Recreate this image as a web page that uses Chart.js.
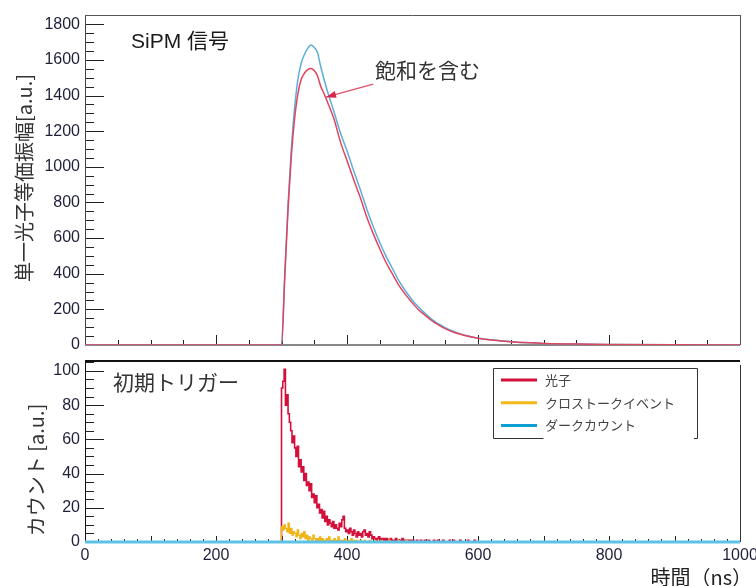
<!DOCTYPE html>
<html>
<head>
<meta charset="utf-8">
<script src="https://cdn.jsdelivr.net/npm/chart.js@4.4.1/dist/chart.umd.min.js"></script>
<style>
  body { margin: 0; background: #fff; }
  #wrap { position: relative; width: 756px; height: 586px; }
  canvas { position: absolute; left: 0; }
  #top { top: 0; }
  #bottom { top: 352px; }
</style>
</head>
<body>
<div id="wrap">
  <canvas id="top" width="756" height="352"></canvas>
  <canvas id="bottom" width="756" height="234"></canvas>
</div>
<script>
// Top panel: SiPM signal (time in ns, amplitude in a.u.)
const sigTimes     = [0, 290, 300, 305, 310, 315, 320, 325, 330, 335, 340, 345, 350, 355, 360, 365, 370, 380, 390, 400, 410, 420, 430, 440, 450, 460, 470, 480, 490, 500, 510, 520, 530, 540, 550, 560, 570, 580, 590, 600, 620, 640, 660, 680, 700, 750, 800, 900, 1000];
const sigSaturated = [0, 0, 0, 380, 760, 1060, 1270, 1410, 1490, 1525, 1545, 1552, 1540, 1510, 1450, 1410, 1365, 1270, 1140, 1035, 930, 830, 720, 625, 540, 460, 395, 330, 280, 235, 195, 165, 135, 112, 92, 76, 63, 53, 45, 38, 28, 21, 16, 12, 9, 5, 3, 1, 0];
const sigLinear    = [0, 0, 0, 400, 790, 1100, 1330, 1490, 1580, 1630, 1665, 1683, 1670, 1640, 1560, 1490, 1425, 1310, 1190, 1090, 980, 875, 765, 665, 575, 495, 425, 355, 300, 250, 210, 175, 142, 118, 97, 80, 66, 55, 46, 39, 29, 22, 16, 12, 9, 5, 3, 1, 0];

// Bottom panel: first-trigger histograms, 2 ns bins starting at 300 ns
const histStart = 300;
const binWidth = 2;
const photonCounts = [
  90, 94, 101, 80, 86, 75, 70, 65, 58, 62,
  55, 50, 56, 44, 48, 41, 44, 36, 40, 33,
  35, 30, 34, 26, 28, 23, 27, 20, 22, 17,
  19, 14, 18, 12, 15, 10, 13, 11, 9, 12,
  8, 10, 8, 7, 11, 9, 13, 15, 8, 6,
  7, 5, 8, 6, 4, 7, 5, 3, 6, 4,
  5, 3, 6, 7, 4, 5, 3, 6, 4, 2,
  3, 2, 1, 2, 3, 1, 2, 1, 2, 1,
  2, 0, 1, 2, 1, 0, 1, 2, 0, 1,
  1, 0, 2, 0, 1, 0, 1, 0, 1, 0,
  1, 0, 0, 1, 0, 0, 1, 0, 0, 1,
  0, 0, 1, 0, 0, 0, 1, 0, 0, 1,
  0, 0, 0, 1, 0, 0, 0, 0, 1, 0,
  0, 1, 0, 0, 0, 0, 1, 0, 0, 0,
  0, 0, 1, 0, 0, 0, 0, 1, 0, 0
];
const crosstalkCounts = [
  9, 7, 10, 8, 6, 11, 5, 8, 4, 6,
  5, 3, 7, 4, 2, 5, 3, 6, 2, 4,
  1, 3, 2, 1, 4, 2, 1, 2, 0, 3,
  1, 2, 1, 0, 2, 1, 3, 1, 0, 1,
  2, 0, 1, 3, 1, 0, 1, 0, 2, 1,
  0, 1, 0, 2, 0, 1, 0, 1, 0, 0,
  1, 0, 0, 1, 0, 0, 0, 1, 0, 0,
  0, 1, 0, 0, 0, 0, 1, 0, 0, 0,
  0, 0, 1, 0, 0, 0, 0, 0, 0, 1,
  0, 0, 0, 0, 0, 1, 0, 0, 0, 0
];
const darkTimes = [0, 1000];
const darkCounts = [0, 0];

const legendLabels = ['光子', 'クロストークイベント', 'ダークカウント'];
const legendColors = ['#d3103c', '#f2b718', '#0d9fd3'];

// annotation arrow (time, amplitude)
const arrowFrom = [440, 1464];
const arrowTo = [368, 1391];

const tickFont = { family: '"Liberation Sans", Arial, sans-serif', size: 16 };
const tickColor = '#1f1f3a';
const jpFont = '"Noto Sans CJK JP", "Noto Sans", sans-serif';

// turn bin counts into a stepped outline
function histPoints(counts) {
  const pts = [{ x: histStart, y: 0 }];
  counts.forEach((v, i) => pts.push({ x: histStart + i * binWidth, y: v }));
  pts.push({ x: histStart + counts.length * binWidth, y: counts[counts.length - 1] });
  pts.push({ x: histStart + counts.length * binWidth, y: 0 });
  return pts;
}

// ROOT-like inward ticks and frame
const insideTicks = {
  id: 'insideTicks',
  beforeDatasetsDraw(chart, args, o) {
    const { ctx, chartArea: a, scales: { x, y } } = chart;
    ctx.save();
    ctx.strokeStyle = '#222';
    ctx.lineWidth = 1;
    ctx.beginPath();
    for (let v = 0; v <= y.max + 1e-9; v += o.yMinor) {
      const py = Math.round(y.getPixelForValue(v)) + 0.5;
      const major = Math.abs(v / o.yMajor - Math.round(v / o.yMajor)) < 1e-6;
      ctx.moveTo(a.left, py);
      ctx.lineTo(a.left + (major ? o.yMajorLen : o.yMinorLen), py);
    }
    for (let v = 0; v <= x.max + 1e-9; v += o.xMinor) {
      const px = Math.round(x.getPixelForValue(v)) + 0.5;
      const major = Math.abs(v / o.xMajor - Math.round(v / o.xMajor)) < 1e-6;
      ctx.moveTo(px, a.bottom);
      ctx.lineTo(px, a.bottom - (major ? o.xMajorLen : o.xMinorLen));
    }
    ctx.stroke();
    o.sides.forEach(s => {
      ctx.strokeStyle = s.color;
      ctx.lineWidth = s.width;
      ctx.beginPath();
      const off = s.width % 2 ? 0.5 : 0;
      if (s.side === 'left') { ctx.moveTo(a.left + off, a.top); ctx.lineTo(a.left + off, a.bottom); }
      if (s.side === 'right') { ctx.moveTo(a.right + off, a.top + (s.from || 0)); ctx.lineTo(a.right + off, a.bottom); }
      if (s.side === 'top') { ctx.moveTo(a.left, a.top + off); ctx.lineTo(a.right, a.top + off); }
      if (s.side === 'bottom') { ctx.moveTo(a.left, a.bottom + off); ctx.lineTo(a.right, a.bottom + off); }
      ctx.stroke();
    });
    ctx.restore();
  }
};

function drawText(ctx, t) {
  ctx.save();
  ctx.font = t.font;
  ctx.fillStyle = t.color || '#222';
  ctx.textAlign = t.align || 'left';
  ctx.textBaseline = 'middle';
  ctx.translate(t.x, t.y);
  if (t.rotate) ctx.rotate(t.rotate);
  ctx.fillText(t.text, 0, 0);
  ctx.restore();
}

const topTexts = {
  id: 'topTexts',
  afterDraw(chart) {
    const { ctx, scales: { x, y } } = chart;
    drawText(ctx, { text: 'SiPM 信号', x: 131, y: 42, font: '21px "Liberation Sans", ' + jpFont, color: '#1a1a1a' });
    drawText(ctx, { text: '飽和を含む', x: 375, y: 70, font: '21px ' + jpFont, color: '#333' });
    drawText(ctx, { text: '単一光子等価振幅[a.u.]', x: 24, y: 178, font: '20px ' + jpFont, color: '#333', align: 'center', rotate: -Math.PI / 2 });
    // arrow
    const x0 = x.getPixelForValue(arrowFrom[0]), y0 = y.getPixelForValue(arrowFrom[1]);
    const x1 = x.getPixelForValue(arrowTo[0]), y1 = y.getPixelForValue(arrowTo[1]);
    const ang = Math.atan2(y1 - y0, x1 - x0);
    ctx.save();
    ctx.strokeStyle = '#e2506c';
    ctx.fillStyle = '#d8254a';
    ctx.lineWidth = 1.3;
    ctx.beginPath();
    ctx.moveTo(x0, y0);
    ctx.lineTo(x1, y1);
    ctx.stroke();
    ctx.beginPath();
    ctx.moveTo(x1, y1);
    ctx.lineTo(x1 - 10 * Math.cos(ang) + 3.5 * Math.sin(ang), y1 - 10 * Math.sin(ang) - 3.5 * Math.cos(ang));
    ctx.lineTo(x1 - 10 * Math.cos(ang) - 3.5 * Math.sin(ang), y1 - 10 * Math.sin(ang) + 3.5 * Math.cos(ang));
    ctx.closePath();
    ctx.fill();
    ctx.restore();
  }
};

const bottomTexts = {
  id: 'bottomTexts',
  afterDraw(chart) {
    const { ctx } = chart;
    drawText(ctx, { text: '初期トリガー', x: 113, y: 30, font: '21px ' + jpFont, color: '#333' });
    drawText(ctx, { text: 'カウント [a.u.]', x: 36, y: 118, font: '20px ' + jpFont, color: '#333', align: 'center', rotate: -Math.PI / 2 });
    drawText(ctx, { text: '時間（ns）', x: 752, y: 225, font: '20px ' + jpFont, color: '#222', align: 'right' });
    // legend box (ROOT style, bottom edge partly open)
    ctx.save();
    ctx.strokeStyle = '#333';
    ctx.lineWidth = 1;
    ctx.beginPath();
    ctx.moveTo(543.5, 86.5); ctx.lineTo(493.5, 86.5); ctx.lineTo(493.5, 16.5);
    ctx.lineTo(697.5, 16.5); ctx.lineTo(697.5, 86.5); ctx.lineTo(694, 86.5);
    ctx.stroke();
    legendLabels.forEach((lab, i) => {
      const ly = 28 + i * 22.7;
      ctx.strokeStyle = legendColors[i];
      ctx.lineWidth = 3;
      ctx.beginPath();
      ctx.moveTo(501, ly); ctx.lineTo(537, ly);
      ctx.stroke();
      drawText(ctx, { text: lab, x: 545, y: ly, font: '13px ' + jpFont, color: '#444' });
    });
    ctx.restore();
  }
};

Chart.defaults.font.family = tickFont.family;
const plainNum = v => String(v);

new Chart(document.getElementById('top'), {
  type: 'line',
  data: {
    datasets: [
      { label: 'saturated', data: sigTimes.map((t, i) => ({ x: t, y: sigSaturated[i] })), borderColor: '#e2445e', borderWidth: 1.5, pointRadius: 0, cubicInterpolationMode: 'monotone' },
      { label: 'linear', data: sigTimes.map((t, i) => ({ x: t, y: sigLinear[i] })), borderColor: '#5aafd9', borderWidth: 1.5, pointRadius: 0, cubicInterpolationMode: 'monotone' }
    ]
  },
  options: {
    responsive: false,
    animation: false,
    devicePixelRatio: 1,
    layout: { padding: { top: 15, right: 16, bottom: 7, left: 0 } },
    plugins: {
      legend: { display: false },
      tooltip: { enabled: false },
      insideTicks: {
        yMajor: 200, yMinor: 50, yMajorLen: 19, yMinorLen: 9,
        xMajor: 200, xMinor: 50, xMajorLen: 10, xMinorLen: 5,
        sides: [
          { side: 'left', color: '#444', width: 1 },
          { side: 'top', color: '#555', width: 1 },
          { side: 'right', color: '#555', width: 1 },
          { side: 'bottom', color: '#888', width: 2 }
        ]
      }
    },
    scales: {
      x: { type: 'linear', min: 0, max: 1000, display: false },
      y: {
        min: 0, max: 1852,
        grid: { display: false, drawTicks: false },
        border: { display: false },
        ticks: { stepSize: 200, includeBounds: false, padding: 5, font: tickFont, color: tickColor, callback: plainNum },
        afterFit: s => { s.width = 85; s.paddingTop = 0; s.paddingBottom = 0; }
      }
    }
  },
  plugins: [insideTicks, topTexts]
});

new Chart(document.getElementById('bottom'), {
  type: 'line',
  data: {
    datasets: [
      { label: 'ダークカウント', data: darkTimes.map((t, i) => ({ x: t, y: darkCounts[i] })), borderColor: '#5cc3e6', borderWidth: 3, pointRadius: 0, clip: false },
      { label: 'クロストークイベント', data: histPoints(crosstalkCounts), borderColor: '#f0b414', borderWidth: 1.3, pointRadius: 0, stepped: 'before' },
      { label: '光子', data: histPoints(photonCounts), borderColor: '#d3103c', borderWidth: 1.6, pointRadius: 0, stepped: 'before' }
    ]
  },
  options: {
    responsive: false,
    animation: false,
    devicePixelRatio: 1,
    layout: { padding: { top: 9, right: 16, bottom: 0, left: 0 } },
    plugins: {
      legend: { display: false },
      tooltip: { enabled: false },
      insideTicks: {
        yMajor: 20, yMinor: 5, yMajorLen: 19, yMinorLen: 9,
        xMajor: 100, xMinor: 20, xMajorLen: 6, xMinorLen: 3,
        sides: [
          { side: 'left', color: '#111', width: 1 },
          { side: 'top', color: '#111', width: 2 },
          { side: 'right', color: '#333', width: 1, from: 4 }
        ]
      }
    },
    scales: {
      x: {
        type: 'linear', min: 0, max: 1000,
        grid: { display: false, drawTicks: false },
        border: { display: false },
        ticks: { stepSize: 200, includeBounds: false, padding: 4, font: tickFont, color: tickColor, maxRotation: 0, autoSkip: false, callback: plainNum },
        afterFit: s => { s.height = 44; s.paddingLeft = 0; s.paddingRight = 0; }
      },
      y: {
        min: 0, max: 105.8,
        grid: { display: false, drawTicks: false },
        border: { display: false },
        ticks: { stepSize: 20, includeBounds: false, padding: 5, font: tickFont, color: tickColor, callback: plainNum },
        afterFit: s => { s.width = 85; s.paddingTop = 0; s.paddingBottom = 0; }
      }
    }
  },
  plugins: [insideTicks, bottomTexts]
});
</script>
</body>
</html>
